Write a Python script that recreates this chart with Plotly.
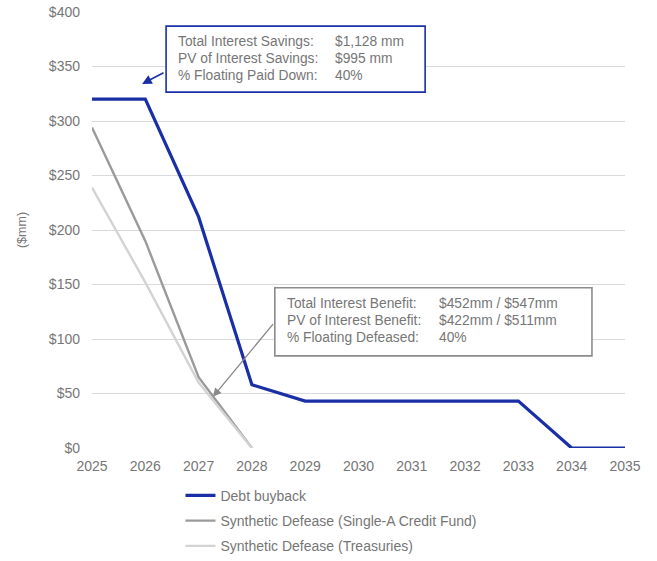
import plotly.graph_objects as go

# Outstanding floating-rate debt by year ($mm)
years = [2025, 2026, 2027, 2028, 2029, 2030, 2031, 2032, 2033, 2034, 2035]
debt_buyback = [320, 320, 212, 58, 43, 43, 43, 43, 43, 0, 0]

defease_years = [2025, 2026, 2027, 2028]
defease_single_a = [294, 190, 65, 0]
defease_treasuries = [239, 152, 60, 0]

# Callout text
buyback_labels = ["Total Interest Savings:", "PV of Interest Savings:", "% Floating Paid Down:"]
buyback_values = ["$1,128 mm", "$995 mm", "40%"]
defease_labels = ["Total Interest Benefit:", "PV of Interest Benefit:", "% Floating Defeased:"]
defease_values = ["$452mm / $547mm", "$422mm / $511mm", "40%"]

BLUE = "#1a2fa6"
GRAY = "#9a9a9a"
LIGHT = "#d3d3d3"
TEXT = "#767676"
FONT = "Liberation Sans, Arial, sans-serif"

fig = go.Figure()
fig.add_trace(go.Scatter(x=years, y=debt_buyback, mode="lines", name="Debt buyback",
                         legendgroup="a", line=dict(color=BLUE, width=3.2)))
fig.add_trace(go.Scatter(x=defease_years, y=defease_single_a, mode="lines",
                         name="Synthetic Defease (Single-A Credit Fund)", legendgroup="b",
                         line=dict(color=GRAY, width=2.4)))
fig.add_trace(go.Scatter(x=defease_years, y=defease_treasuries, mode="lines",
                         name="Synthetic Defease (Treasuries)", legendgroup="c",
                         line=dict(color=LIGHT, width=2.4)))

# Callout boxes
fig.add_shape(type="rect", x0=2026.39, x1=2031.25, y0=326.5, y1=387,
              line=dict(color=BLUE, width=1.6), fillcolor="white", layer="above")
fig.add_shape(type="rect", x0=2028.43, x1=2034.38, y0=84.5, y1=147,
              line=dict(color="#8c8c8c", width=1.6), fillcolor="white", layer="above")

annotations = []
for i, (lab, val) in enumerate(zip(buyback_labels, buyback_values)):
    y = 373 - i * 15.6
    annotations.append(dict(x=2026.57, y=y, text=lab, xanchor="left", yanchor="middle",
                            showarrow=False, font=dict(size=13.8, color=TEXT, family=FONT)))
    annotations.append(dict(x=2029.52, y=y, text=val, xanchor="left", yanchor="middle",
                            showarrow=False, font=dict(size=13.8, color=TEXT, family=FONT)))
for i, (lab, val) in enumerate(zip(defease_labels, defease_values)):
    y = 133 - i * 16
    annotations.append(dict(x=2028.62, y=y, text=lab, xanchor="left", yanchor="middle",
                            showarrow=False, font=dict(size=13.8, color=TEXT, family=FONT)))
    annotations.append(dict(x=2031.47, y=y, text=val, xanchor="left", yanchor="middle",
                            showarrow=False, font=dict(size=13.8, color=TEXT, family=FONT)))

# Arrows from the boxes to the lines
annotations.append(dict(x=2025.94, y=334, ax=2026.37, ay=345, xref="x", yref="y",
                        axref="x", ayref="y", text="", showarrow=True, arrowhead=2,
                        arrowsize=1.2, arrowwidth=1.6, arrowcolor=BLUE))
annotations.append(dict(x=2027.27, y=47, ax=2028.42, ay=115, xref="x", yref="y",
                        axref="x", ayref="y", text="", showarrow=True, arrowhead=2,
                        arrowsize=1.2, arrowwidth=1.4, arrowcolor="#8a8a8a"))

fig.update_layout(
    width=657, height=561,
    margin=dict(l=92, r=32, t=12, b=113, autoexpand=False),
    paper_bgcolor="white", plot_bgcolor="white",
    font=dict(family=FONT, size=12, color=TEXT),
    annotations=annotations,
    showlegend=True,
    legend=dict(orientation="v", x=0.166, y=-0.073, xanchor="left", yanchor="top",
                font=dict(size=14, color=TEXT, family=FONT), tracegroupgap=4,
                bgcolor="rgba(0,0,0,0)"),
)
fig.update_xaxes(range=[2025, 2035], dtick=1, showgrid=False, zeroline=False,
                 showline=False, ticks="", automargin=False, ticklabelstandoff=8,
                 tickfont=dict(size=14, color=TEXT))
fig.update_yaxes(range=[0, 400], dtick=50, tickprefix="$", showgrid=True,
                 gridcolor="#dadada", gridwidth=1, zeroline=False, showline=False,
                 ticks="", automargin=False, ticklabelstandoff=11,
                 tickfont=dict(size=14, color=TEXT),
                 title=dict(text="($mm)", font=dict(size=12.5, color=TEXT), standoff=19))

fig.write_html("out.html")
